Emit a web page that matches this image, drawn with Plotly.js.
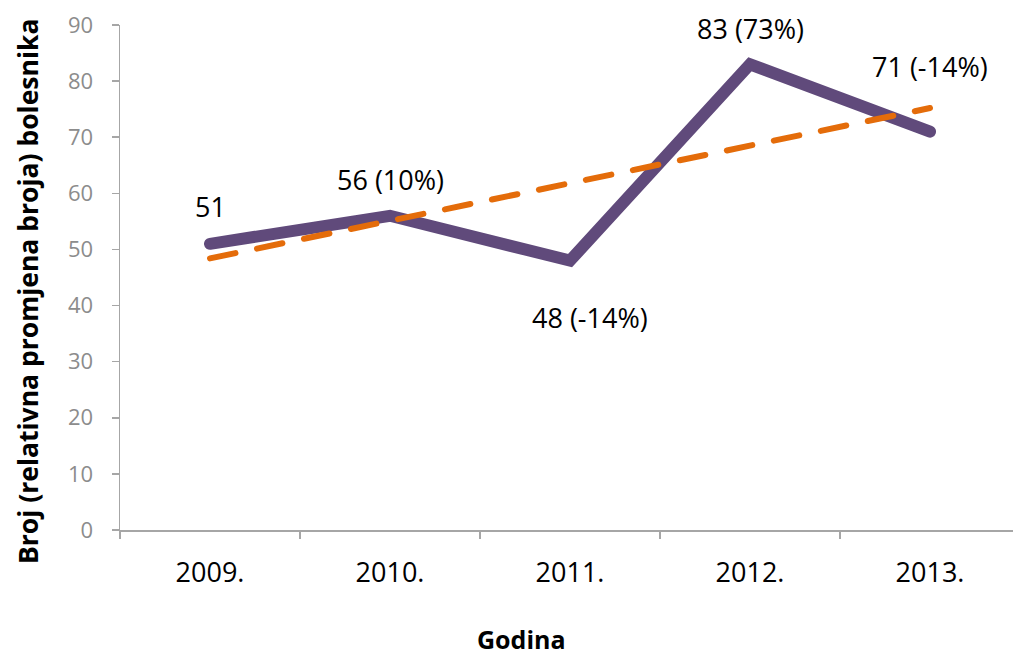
<!DOCTYPE html>
<html>
<head>
<meta charset="utf-8">
<script src="https://cdn.plot.ly/plotly-3.0.1.min.js"></script>
<style>html,body{margin:0;padding:0;background:#fff}#chart{width:1013px;height:659px}</style>
</head>
<body>
<div id="chart"></div>
<script>
const years = ["2009.", "2010.", "2011.", "2012.", "2013."];
const patients = [51, 56, 48, 83, 71];
const trend = [48.4, 55.1, 61.8, 68.5, 75.2];
const labels = ["51", "56 (10%)", "48 (-14%)", "83 (73%)", "71 (-14%)"];
const yTicks = [0, 10, 20, 30, 40, 50, 60, 70, 80, 90];
const xTitle = "Godina";
const yTitle = "Broj (relativna promjena broja) bolesnika";

const FONT = "Open Sans, Noto Sans, sans-serif";
const labelOffsets = [[0, 37], [0, 36], [20, -57], [0, 36], [0, 65]];

const traces = [
  {
    x: years, y: patients, type: "scatter", mode: "lines",
    line: {color: "#604a7b", width: 12},
    hoverinfo: "skip", showlegend: false
  },
  {
    x: years, y: trend, type: "scatter", mode: "lines",
    line: {color: "#e46c0a", width: 6, dash: "26px,22px"},
    hoverinfo: "skip", showlegend: false
  }
];

const annotations = years.map((yr, i) => ({
  x: i, y: patients[i], xref: "x", yref: "y",
  text: labels[i], showarrow: false,
  xshift: labelOffsets[i][0], yshift: labelOffsets[i][1],
  font: {family: FONT, size: 27, color: "#000"}
}));

// axis titles placed as paper annotations (pixel-aligned to reference)
annotations.push({
  xref: "paper", yref: "paper", x: (521 - 120) / 893, y: (659 - 129 - 639) / 505,
  xanchor: "center", yanchor: "middle", showarrow: false, borderpad: 0,
  text: "<b>" + xTitle + "</b>",
  font: {family: FONT, size: 25, color: "#000"}
});
annotations.push({
  xref: "paper", yref: "paper", x: (28 - 120) / 893, y: (530 - 292) / 505,
  xanchor: "center", yanchor: "middle", showarrow: false, textangle: -90, borderpad: 0,
  text: "<b>" + yTitle + "</b>",
  font: {family: FONT, size: 26.5, color: "#000"}
});

const layout = {
  width: 1013, height: 659,
  margin: {l: 120, r: 0, t: 25, b: 129},
  paper_bgcolor: "#fff", plot_bgcolor: "#fff",
  font: {family: FONT},
  xaxis: {
    type: "category", range: [-0.5, 4.461],
    showline: true, linecolor: "#a6a6a6", linewidth: 1.5,
    ticks: "outside", tickson: "boundaries", ticklen: 7, tickcolor: "#a6a6a6", tickwidth: 1.5,
    ticklabelstandoff: 18,
    showgrid: false, zeroline: false,
    tickfont: {family: FONT, size: 27, color: "#000"}
  },
  yaxis: {
    range: [0, 90], tickvals: yTicks, ticktext: yTicks.map(String),
    showline: true, linecolor: "#a6a6a6", linewidth: 1.5,
    ticks: "outside", ticklen: 7, tickcolor: "#a6a6a6", tickwidth: 1.5,
    ticklabelstandoff: 14,
    showgrid: false, zeroline: false,
    tickfont: {family: FONT, size: 22, color: "#8c8c8c"}
  },
  annotations: annotations
};

Plotly.newPlot("chart", traces, layout, {displayModeBar: false, staticPlot: true}).then(gd => {
  gd.querySelectorAll(".scatterlayer path.js-line").forEach(p => {
    p.style.strokeLinecap = "round";
    p.style.strokeLinejoin = "miter";
  });
});
</script>
</body>
</html>
